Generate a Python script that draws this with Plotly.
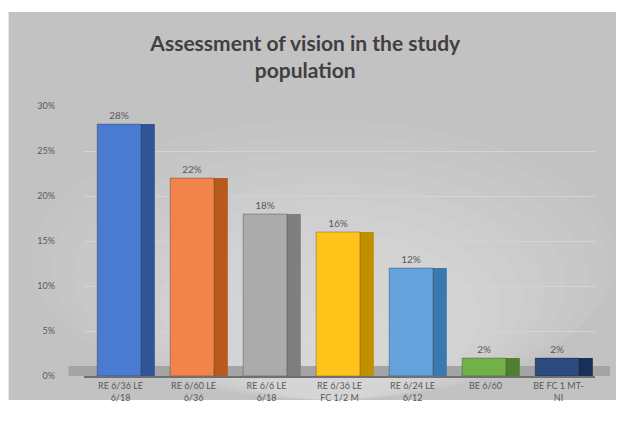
import plotly.graph_objects as go

categories = ["RE 6/36 LE<br>6/18", "RE 6/60 LE<br>6/36", "RE 6/6 LE<br>6/18",
              "RE 6/36 LE<br>FC 1/2 M", "RE 6/24 LE<br>6/12", "BE 6/60", "BE FC 1 MT-<br>NI"]
values = [0.28, 0.22, 0.18, 0.16, 0.12, 0.02, 0.02]
front_colors = ["#4a7bd0", "#F0844A", "#ABABAB", "#FFC31A", "#63A2DA", "#72B048", "#2A4A80"]
side_colors = ["#2F5597", "#B85A1E", "#7F7F7F", "#C09000", "#3A78B0", "#4E8030", "#1A2F55"]
tick_vals = [0, 0.05, 0.10, 0.15, 0.20, 0.25, 0.30]
tick_text = ["0%", "5%", "10%", "15%", "20%", "25%", "30%"]

fig = go.Figure()
fig.add_trace(go.Bar(
    x=categories, y=values, width=0.19, offset=0.28,
    marker=dict(color=side_colors, line=dict(width=0)),
    hoverinfo="skip", showlegend=False))
fig.add_trace(go.Bar(
    x=categories, y=values, width=0.6, offset=-0.32,
    marker=dict(color=front_colors, line=dict(color="rgba(0,0,0,0.25)", width=1)),
    text=[f"{round(v*100)}%" for v in values], textposition="outside",
    textfont=dict(size=10, color="#595959", family="Lato"),
    cliponaxis=False, showlegend=False))

L, R, T, B = 83.5, 623 - 595, 106, 47
pw, ph = 623 - L - R, 423 - T - B

def px(xp):
    return (xp - L) / pw

def py(yp):
    return (423 - B - yp) / ph

shapes = [
    dict(type="rect", xref="paper", yref="paper", x0=px(8), x1=px(616), y0=py(400), y1=py(12),
         fillcolor="#c2c2c2", line=dict(width=0), layer="below"),
]
n = 14
for k in range(n):
    f = 1 - k / n
    rx, ry = 300 * f, 220 * f
    cx, cy = 330, 340
    shapes.append(dict(type="circle", xref="paper", yref="paper",
                       x0=px(max(8, cx - rx)), x1=px(min(616, cx + rx)),
                       y0=py(min(400, cy + ry)), y1=py(cy - ry),
                       fillcolor="rgba(255,255,255,0.045)", line=dict(width=0), layer="below"))
shapes.append(dict(type="rect", xref="paper", yref="y", x0=px(68), x1=px(610), y0=0, y1=0.011,
                   fillcolor="#a4a4a4", line=dict(width=0), layer="below"))

fig.update_layout(
    width=623, height=423,
    margin=dict(l=L, r=R, t=T, b=B),
    paper_bgcolor="white", plot_bgcolor="rgba(0,0,0,0)",
    title=dict(text="<b>Assessment of vision in the study<br>population</b>",
               x=0.49, xanchor="center", y=0.88, yanchor="top",
               font=dict(size=21, color="#404040", family="Lato")),
    shapes=shapes, bargap=0.3,
    font=dict(family="Lato", color="#595959"),
)
fig.update_yaxes(range=[0, 0.30], tickvals=tick_vals, ticktext=tick_text,
                 tickfont=dict(size=9, color="#595959"), showgrid=True,
                 gridcolor="#d4d4d4", gridwidth=1, zeroline=False, ticklen=0,
                 ticks="", automargin=False, ticklabelstandoff=28)
fig.update_xaxes(showline=True, linecolor="#6f6f6f", linewidth=2,
                 tickfont=dict(size=9, color="#595959"), ticks="", automargin=False)

fig.write_html("out.html")
